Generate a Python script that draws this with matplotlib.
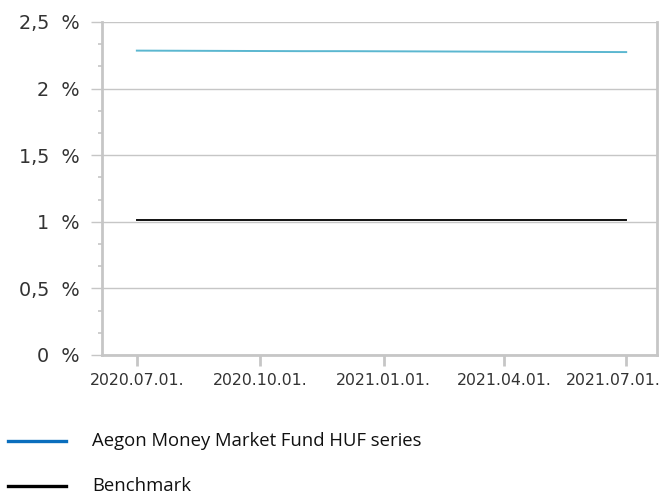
import matplotlib
matplotlib.use("Agg")
import matplotlib.pyplot as plt
import matplotlib.dates as mdates
import matplotlib.transforms as mtransforms
from matplotlib.lines import Line2D
from matplotlib.ticker import MultipleLocator
from datetime import datetime

dates = ["2020-07-01", "2020-08-01", "2020-09-01", "2020-10-01", "2020-11-01",
         "2020-12-01", "2021-01-01", "2021-02-01", "2021-03-01", "2021-04-01",
         "2021-05-01", "2021-06-01", "2021-07-01"]
fund = [2.285, 2.284, 2.283, 2.282, 2.281, 2.281, 2.280, 2.279, 2.278, 2.277,
        2.276, 2.275, 2.274]
benchmark = [1.01] * 13
tick_dates = ["2020-07-01", "2020-10-01", "2021-01-01", "2021-04-01", "2021-07-01"]
y_ticks = [0, 0.5, 1, 1.5, 2, 2.5]
y_labels = ["0  %", "0,5  %", "1  %", "1,5  %", "2  %", "2,5  %"]
series_names = ["Aegon Money Market Fund HUF series", "Benchmark"]
legend_colors = ["#0a6ebd", "#000000"]

GREY = "#c6c6c6"
TEXT = "#333333"

x = [datetime.strptime(d, "%Y-%m-%d") for d in dates]
xt = [datetime.strptime(d, "%Y-%m-%d") for d in tick_dates]

fig = plt.figure(figsize=(6.64, 4.94), dpi=100)
ax = fig.add_axes([0.1536, 0.2814, 0.8359, 0.6741])

ax.plot(x, fund, color="#5bb7d0", lw=1.4)
ax.plot(x, benchmark, color="#111111", lw=1.4)

ax.set_ylim(0, 2.5)
ax.set_xlim(datetime(2020, 6, 5), datetime(2021, 7, 24))
ax.set_yticks(y_ticks)
ax.set_yticklabels(y_labels)
ax.yaxis.set_minor_locator(MultipleLocator(0.5 / 3))
ax.set_xticks([mdates.date2num(d) for d in xt])
ax.set_xticklabels([d.strftime("%Y.%m.%d.") for d in xt])

ax.grid(axis="y", color=GREY, lw=1.0)
ax.set_axisbelow(True)
ax.spines["top"].set_visible(False)
for s in ["left", "bottom", "right"]:
    ax.spines[s].set_color(GREY)
    ax.spines[s].set_linewidth(2.0)

ax.tick_params(axis="y", which="major", length=8, width=1.0, color=GREY,
               labelsize=13.8, labelcolor=TEXT, pad=8)
ax.tick_params(axis="y", which="minor", length=3, width=1.2, color=GREY)
ax.tick_params(axis="x", which="major", length=8, width=2.0, color=GREY,
               labelsize=11.3, labelcolor=TEXT, pad=5)

# last date label is pushed left so it fits, like the original
last = ax.get_xticklabels()[-1]
last.set_transform(last.get_transform() +
                   mtransforms.ScaledTranslation(-13 / 100, 0, fig.dpi_scale_trans))

# legend drawn by hand below the chart
W, H = 664, 494
for i, (name, col) in enumerate(zip(series_names, legend_colors)):
    yy = 1 - (441 + 45 * i) / H
    fig.add_artist(Line2D([8 / W, 66 / W], [yy, yy], color=col, lw=2.4,
                          transform=fig.transFigure))
    fig.text(92 / W, yy, name, va="center", ha="left", fontsize=13.3,
             family="Open Sans", color="#111111")

fig.savefig("out.png", dpi=100)
